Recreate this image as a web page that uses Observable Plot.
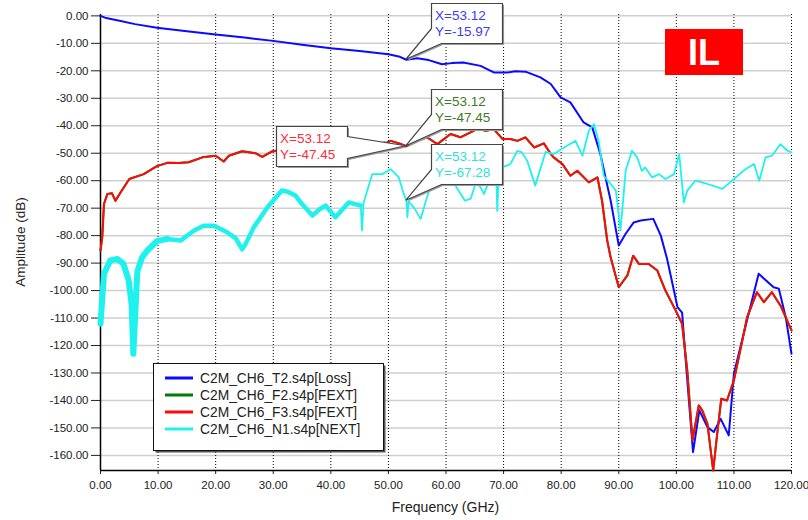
<!DOCTYPE html>
<html><head><meta charset="utf-8">
<script src="https://cdn.jsdelivr.net/npm/d3@7"></script>
<script src="https://cdn.jsdelivr.net/npm/@observablehq/plot@0.6"></script>
<style>body{margin:0;background:#fff;}</style>
</head><body><div id="chart"></div>
<script>
// ---------- data ----------
const xTicks = [0, 10, 20, 30, 40, 50, 60, 70, 80, 90, 100, 110, 120];
const yTicks = [0, -10, -20, -30, -40, -50, -60, -70, -80, -90, -100, -110, -120, -130, -140, -150, -160];
const seriesNames = ["C2M_CH6_T2.s4p[Loss]", "C2M_CH6_F2.s4p[FEXT]", "C2M_CH6_F3.s4p[FEXT]", "C2M_CH6_N1.s4p[NEXT]"];
const seriesColors = ["#0a0aff", "#007a00", "#ff0a0a", "#1ff2ee"];
const labelColors = ["#3c3cf0", "#3f7a25", "#ff2a3a", "#2fe0dc"];

// [frequency GHz, amplitude dB]
const lossPts = [[0,0],[1,-0.8],[3.5,-1.9],[6,-3],[9.8,-4.3],[15,-5.6],[20,-6.8],[25,-7.9],[30,-9.1],[35,-10.5],[40,-11.8],[45,-12.8],[50,-14],[52,-14.9],[53.12,-15.97],[55,-15.4],[57,-16.1],[59.3,-17.6],[61,-17.2],[63,-17],[66,-18.2],[68.3,-20.6],[70.7,-20.6],[72,-20.2],[73.8,-20.3],[76.4,-22.4],[78.2,-24.8],[79.9,-29.7],[81.6,-31.5],[83.9,-38.8],[85.4,-40.6],[86.8,-50.3],[88.6,-67.3],[90,-83.6],[91.2,-79.3],[92.6,-75.2],[93.8,-74.5],[96,-73.9],[97.3,-80],[98.4,-88.5],[100.2,-106],[101,-108],[101.8,-130],[102.9,-158.8],[104,-143.6],[105.4,-149.7],[106.5,-151.5],[107.7,-146.7],[109.1,-152.7],[110,-130.2],[112.4,-109.7],[114.3,-93.9],[116.9,-98.8],[117.8,-99.3],[119,-109.7],[120,-123]];

const fext3Pts = [[0,-85.5],[0.3,-80.6],[0.6,-68.5],[1.2,-64.8],[2,-64.6],[2.6,-67.3],[3.5,-64.2],[5,-59.4],[7.5,-57.6],[9.8,-54.7],[11.6,-53.5],[13.5,-53.6],[15.3,-53.3],[17.7,-51.5],[20,-50.9],[21.4,-53],[22.3,-50.9],[24.6,-49.3],[26.9,-50],[28.1,-51.3],[29.8,-49.3],[31,-49],[34,-48.5],[37,-48],[40,-47.8],[43.5,-47.5],[46,-47],[48,-46.5],[49.8,-46.1],[50.4,-45.5],[52,-46.5],[53.12,-47.45],[55,-45.5],[56.7,-44.2],[58.5,-46.7],[60.8,-43],[62.5,-44.2],[65.4,-41.2],[67,-41.8],[68.3,-41.2],[69.8,-44.8],[71.2,-44.8],[72.4,-45.5],[73.8,-44.2],[75.3,-47.9],[77,-46.4],[78.2,-50.3],[78.7,-51.5],[80.2,-53.9],[81.6,-58.2],[82.8,-56.4],[84.8,-60.6],[86.3,-58.8],[87.1,-67.3],[88,-81.8],[88.6,-88],[90,-98.8],[91.5,-94.5],[92.5,-87.3],[93.5,-90.3],[95.2,-90.3],[96.7,-92.7],[98.1,-100],[99.9,-107.3],[101,-112.1],[101.9,-129.1],[102.8,-154.5],[103.9,-141.8],[104.5,-143.6],[105.4,-148.5],[106.4,-165.5],[107.1,-152.1],[107.8,-139.4],[108.8,-140],[110,-132.7],[112.3,-109.7],[114,-100.6],[115.2,-104.2],[116.6,-100.6],[118.1,-105.5],[120,-114.5]];

// F2 FEXT is hidden under F3 in the picture (same marker value)
const fext2Pts = fext3Pts;

const nextPts = [[0,-112],[0.6,-94],[1.7,-89],[2.9,-88.5],[4,-90.3],[4.9,-96.4],[5.4,-105],[5.7,-123],[6,-110],[6.4,-93],[7.2,-88],[8.1,-85.5],[9.8,-82],[11.6,-81.2],[13.9,-81.8],[16.2,-78.2],[17.9,-76.4],[19.7,-76.4],[22,-78.8],[23.5,-81],[24.6,-85],[25.2,-83],[26.6,-77],[29,-69.7],[31.5,-63.6],[32.5,-64],[33.9,-65.5],[35,-68.5],[36.8,-72.7],[38,-70.5],[39.1,-69.1],[40.8,-73.3],[43.1,-67.9],[45.2,-69.1],[45.4,-78.2],[45.7,-67.9],[47.2,-57.6],[48.9,-57.6],[50.4,-55.8],[51.8,-58.8],[52.7,-65],[53.12,-67.28],[53.3,-73.3],[53.5,-67.5],[54.5,-70],[55.6,-73.9],[56.7,-66],[57.5,-61],[58.5,-58.5],[59.5,-60],[60.8,-58.8],[62,-63],[63.3,-67.3],[64.3,-66.5],[65.2,-60.6],[66,-62.4],[66.6,-64.8],[67.5,-60],[68.7,-54.5],[68.9,-71],[69.2,-55.2],[70.6,-54.5],[71.2,-53.9],[72.4,-49.1],[73.2,-49.7],[74.1,-52.7],[75.5,-61.8],[77.3,-49.5],[78.7,-50.3],[81,-47.3],[82.5,-45.5],[83.7,-50.9],[84.8,-41.8],[85.7,-39.4],[86.5,-45.5],[87.4,-58.2],[88.6,-61.2],[89.5,-63.6],[90.3,-78.2],[91.2,-56.4],[92.3,-49.1],[93.2,-51.5],[94,-56.4],[94.6,-55.2],[95.8,-58.8],[97,-57.6],[98.1,-59.4],[99.6,-57.6],[100.5,-50.3],[101.3,-67.9],[101.9,-63.6],[103.3,-60],[105.4,-61.2],[108,-63],[110,-59.4],[112,-55.8],[113.5,-53.9],[114.4,-60],[115.5,-51.5],[116.6,-50.9],[118.1,-46.7],[119.3,-49.1],[120,-49.7]];

const markerFreq = 53.12;
const markerValues = [-15.97, -47.45, -47.45, -67.28];
const badgeText = "IL";
const xLabel = "Frequency (GHz)";
const yLabel = "Amplitude (dB)";

// ---------- chart ----------
const W = 808, H = 520;
const xDomain = [0, 120], yDomain = [-165.5, 0.5];
const fmt = d => d.toFixed(2);
const fx = d => d[0], fy = d => d[1];

const plot = Plot.plot({
  width: W, height: H,
  marginLeft: 100, marginRight: 17, marginTop: 14, marginBottom: 50,
  style: {fontFamily: "'Liberation Sans', Arial, sans-serif", fontSize: "11.5px", color: "#222", background: "#fff", overflow: "visible"},
  x: {domain: xDomain},
  y: {domain: yDomain},
  marks: [
    Plot.gridY(yTicks, {stroke: "#cfcfcf", strokeOpacity: 1, strokeWidth: 1.5}),
    Plot.gridX(xTicks.filter(v => v > 0), {stroke: "#000", strokeOpacity: 1, strokeDasharray: "1,2"}),
    Plot.axisY(yTicks, {tickFormat: fmt, tickSize: 9, tickPadding: 3, label: null}),
    Plot.axisX(xTicks, {tickFormat: fmt, tickSize: 4, tickPadding: 6, label: null}),
    Plot.ruleX([xDomain[0]], {stroke: "#000", strokeWidth: 1.5}),
    Plot.ruleY([yDomain[0]], {stroke: "#000", strokeWidth: 1.5}),
    Plot.line(lossPts, {x: fx, y: fy, stroke: seriesColors[0], strokeWidth: 2}),
    Plot.line(fext2Pts, {x: fx, y: fy, stroke: seriesColors[1], strokeWidth: 2}),
    Plot.line(fext3Pts, {x: fx, y: fy, stroke: seriesColors[2], strokeWidth: 2}),
    Plot.line(nextPts.filter(d => d[0] <= 12), {x: fx, y: fy, stroke: seriesColors[3], strokeWidth: 6}),
    Plot.line(nextPts.filter(d => d[0] <= 45.2), {x: fx, y: fy, stroke: seriesColors[3], strokeWidth: 4.5}),
    Plot.line(nextPts, {x: fx, y: fy, stroke: seriesColors[3], strokeWidth: 1.8})
  ]
});
document.getElementById("chart").append(plot);

const sx = plot.scale("x"), sy = plot.scale("y");
const svg = d3.select(plot);
const x0 = sx.range[0], x1 = sx.range[1];
const yTop = Math.min(...sy.range), yBot = Math.max(...sy.range);

// axis labels
svg.append("text").attr("x", (x0 + x1) / 2).attr("y", H - 8)
  .attr("text-anchor", "middle").attr("font-size", 14).attr("fill", "#222").text(xLabel);
svg.append("text").attr("transform", `translate(21,${(yTop + yBot) / 2}) rotate(-90)`)
  .attr("text-anchor", "middle").attr("dominant-baseline", "middle")
  .attr("font-size", 13.5).attr("fill", "#222").text(yLabel);

// callouts
const boxW = 71, boxH = 40;
const calloutLayout = [
  {side: "left", dx: 25, dy: -56},
  {side: "left", dx: 25, dy: -57},
  {side: "right", dx: -130, dy: -20},
  {side: "left", dx: 25, dy: -56}
];
const gC = svg.append("g").attr("text-anchor", "start");
markerValues.forEach((v, i) => {
  const px = sx.apply(markerFreq), py = sy.apply(v);
  const lay = calloutLayout[i];
  const L = Math.round(px + lay.dx) + 0.5, T = Math.round(py + lay.dy) + 0.5;
  const R = L + boxW, B = T + boxH;
  let p;
  if (lay.side === "left") {
    p = `M${L},${T}H${R}V${B}H${L + 10}L${px},${py}L${L},${T + 25}Z`;
  } else {
    p = `M${L},${T}H${R}V${T + 10}L${px},${py}L${R},${T + 32}V${B}H${L}Z`;
  }
  gC.append("path").attr("d", p).attr("transform", "translate(1.5,1.5)").attr("fill", "#9a9a9a");
  gC.append("path").attr("d", p).attr("fill", "#fff").attr("stroke", "#444").attr("stroke-width", 1.2);
  const t = gC.append("text").attr("font-size", 13.5).attr("fill", labelColors[i]).attr("text-anchor", "start");
  t.append("tspan").attr("x", L + 3.5).attr("y", T + 16.5).text("X=" + fmt(markerFreq));
  t.append("tspan").attr("x", L + 3.5).attr("y", T + 32).text("Y=" + fmt(v));
});

// legend
const gL = svg.append("g").attr("text-anchor", "start");
const lgX = 153.5, lgY = 363.5, lgW = 230, lgH = 87;
gL.append("rect").attr("x", lgX + 2).attr("y", lgY + 2).attr("width", lgW).attr("height", lgH).attr("fill", "#555");
gL.append("rect").attr("x", lgX).attr("y", lgY).attr("width", lgW).attr("height", lgH).attr("fill", "#fff").attr("stroke", "#111");
seriesNames.forEach((name, i) => {
  const ry = 378 + i * 17;
  gL.append("line").attr("x1", 165).attr("x2", 193).attr("y1", ry).attr("y2", ry)
    .attr("stroke", seriesColors[i]).attr("stroke-width", 3);
  gL.append("text").attr("x", 200).attr("y", ry + 5).attr("text-anchor", "start")
    .attr("font-size", 13.8).attr("fill", "#222").text(name);
});

// badge
const gB = svg.append("g");
gB.append("rect").attr("x", 665).attr("y", 29).attr("width", 78).attr("height", 46).attr("fill", "#ff0000");
gB.append("text").attr("x", 704).attr("y", 65).attr("text-anchor", "middle").attr("font-size", 36)
  .attr("font-weight", "bold").attr("fill", "#fff").attr("font-family", "'Liberation Sans', Arial, sans-serif").text(badgeText);
</script>
</body></html>
